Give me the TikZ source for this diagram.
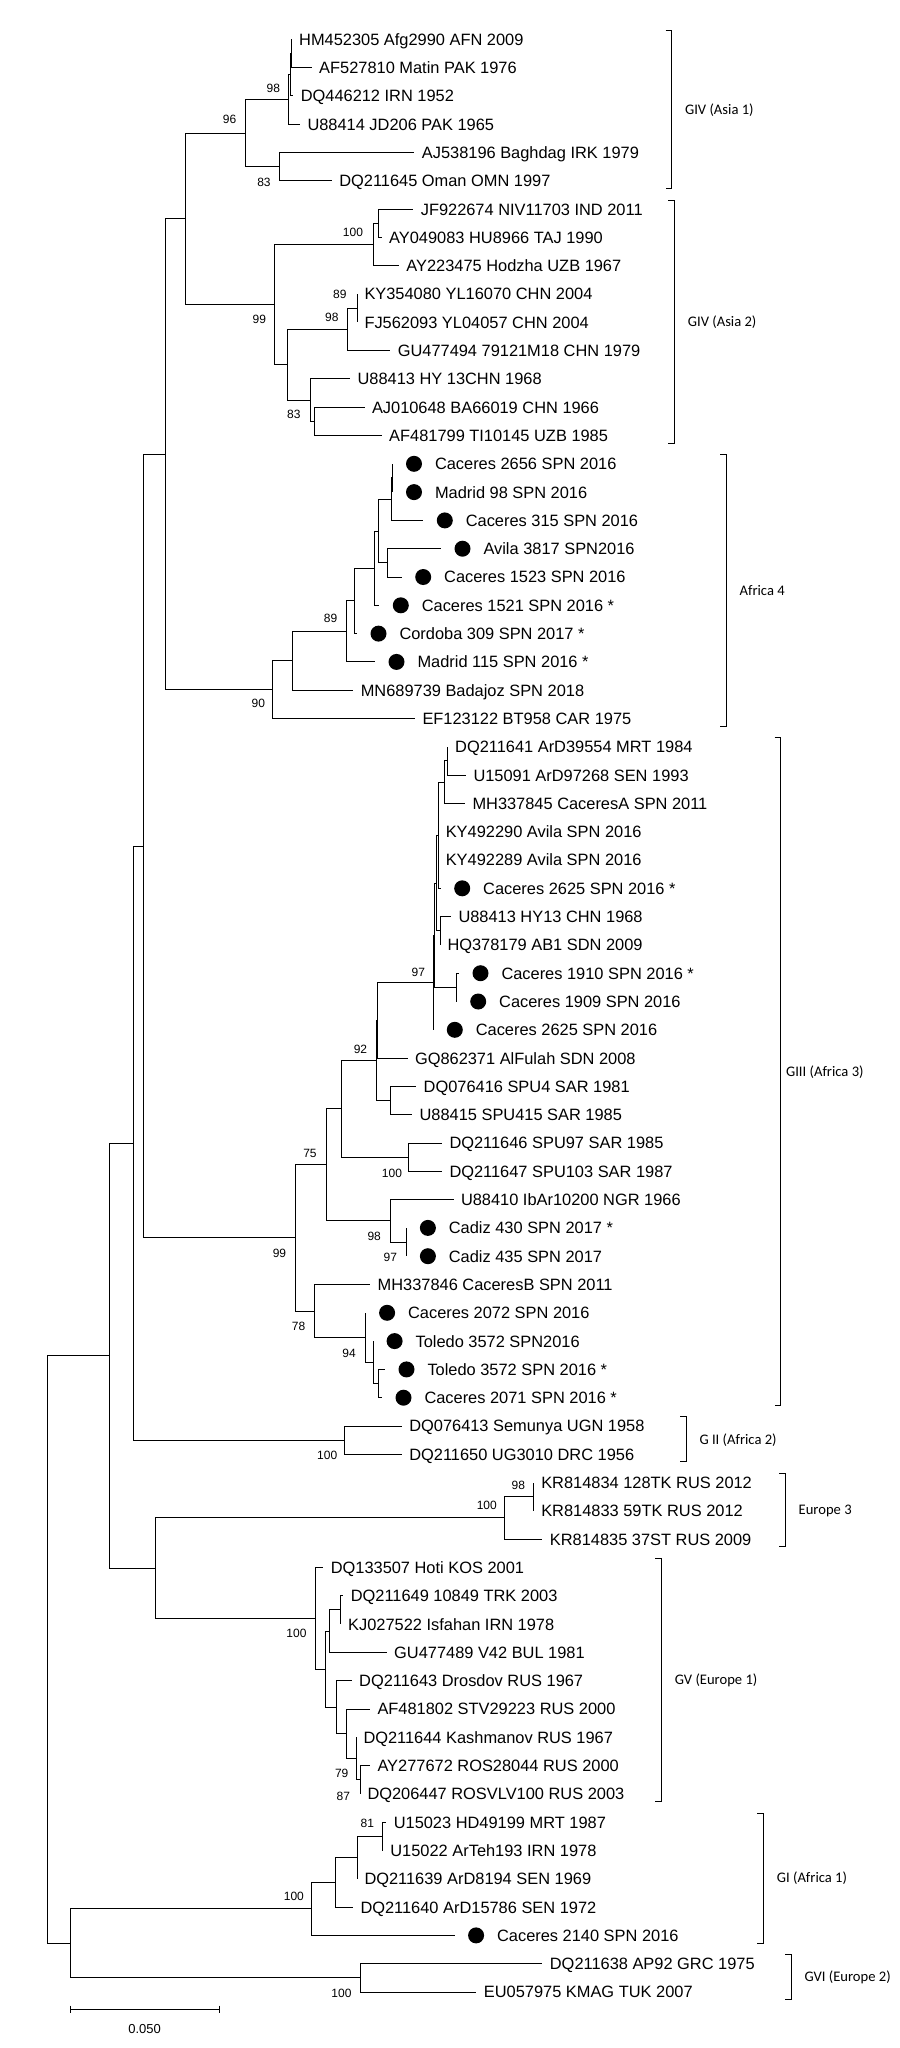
\documentclass[tikz,border=0pt]{standalone}
\usepackage{fontspec}
\setmainfont{Liberation Sans}
\newfontfamily\cladefont{Carlito}
\usetikzlibrary{positioning}
\newcommand{\leaffont}{\fontsize{8.2pt}{10pt}\selectfont}
\newcommand{\bsfont}{\fontsize{6pt}{7pt}\selectfont}

\begin{document}
\begin{tikzpicture}[x=0.5pt,y=-14.15pt,line width=.5pt,
 lf/.style={inner sep=0pt,font=\leaffont,text height=5.9pt,text depth=0pt},
 isolate/.style={circle,fill=black,minimum size=8pt,inner sep=0pt},
 bs/.style={inner sep=0pt,font=\bsfont,text height=4.3pt,text depth=0pt},
 clade/.style={inner sep=0pt,font=\cladefont\fontsize{7.3pt}{9pt}\selectfont,text height=4.7pt,text depth=0pt}]
\useasboundingbox (0,-1.389) rectangle (900,70.979);
% leaves: GIV (Asia 1)
\coordinate (hm452305) at (291.7,0); \node[lf,right=3.5pt of hm452305] (hm452305-l) {HM452305 Afg2990 AFN 2009};
\coordinate (af527810) at (311.7,1); \node[lf,right=3.5pt of af527810] (af527810-l) {AF527810 Matin PAK 1976};
\coordinate (dq446212) at (293.3,2); \node[lf,right=3.5pt of dq446212] (dq446212-l) {DQ446212 IRN 1952};
\coordinate (u88414) at (300,3); \node[lf,right=3.5pt of u88414] (u88414-l) {U88414 JD206 PAK 1965};
\coordinate (aj538196) at (414.4,4); \node[lf,right=3.5pt of aj538196] (aj538196-l) {AJ538196 Baghdag IRK 1979};
\coordinate (dq211645) at (331.8,5); \node[lf,right=3.5pt of dq211645] (dq211645-l) {DQ211645 Oman OMN 1997};
% GIV (Asia 2)
\coordinate (jf922674) at (413.3,6); \node[lf,right=3.5pt of jf922674] (jf922674-l) {JF922674 NIV11703 IND 2011};
\coordinate (ay049083) at (381.7,7); \node[lf,right=3.5pt of ay049083] (ay049083-l) {AY049083 HU8966 TAJ 1990};
\coordinate (ay223475) at (398.9,8); \node[lf,right=3.5pt of ay223475] (ay223475-l) {AY223475 Hodzha UZB 1967};
\coordinate (ky354080) at (357,9); \node[lf,right=3.5pt of ky354080] (ky354080-l) {KY354080 YL16070 CHN 2004};
\coordinate (fj562093) at (357,10); \node[lf,right=3.5pt of fj562093] (fj562093-l) {FJ562093 YL04057 CHN 2004};
\coordinate (gu477494) at (390.3,11); \node[lf,right=3.5pt of gu477494] (gu477494-l) {GU477494 79121M18 CHN 1979};
\coordinate (u88413a) at (350.1,12); \node[lf,right=3.5pt of u88413a] (u88413a-l) {U88413 HY 13CHN 1968};
\coordinate (aj010648) at (364.5,13); \node[lf,right=3.5pt of aj010648] (aj010648-l) {AJ010648 BA66019 CHN 1966};
\coordinate (af481799) at (381.7,14); \node[lf,right=3.5pt of af481799] (af481799-l) {AF481799 TI10145 UZB 1985};
% Africa 4
\coordinate (cac2656) at (392.5,15); \node[isolate,right=6.5pt of cac2656] (cac2656-d) {}; \node[lf,right=6pt of cac2656-d] (cac2656-l) {Caceres 2656 SPN 2016};
\coordinate (mad98) at (392.5,16); \node[isolate,right=6.5pt of mad98] (mad98-d) {}; \node[lf,right=6pt of mad98-d] (mad98-l) {Madrid 98 SPN 2016};
\coordinate (cac315) at (423.3,17); \node[isolate,right=6.5pt of cac315] (cac315-d) {}; \node[lf,right=6pt of cac315-d] (cac315-l) {Caceres 315 SPN 2016};
\coordinate (avi3817) at (441,18); \node[isolate,right=6.5pt of avi3817] (avi3817-d) {}; \node[lf,right=6pt of avi3817-d] (avi3817-l) {Avila 3817 SPN2016};
\coordinate (cac1523) at (401.7,19); \node[isolate,right=6.5pt of cac1523] (cac1523-d) {}; \node[lf,right=6pt of cac1523-d] (cac1523-l) {Caceres 1523 SPN 2016};
\coordinate (cac1521) at (379.3,20); \node[isolate,right=6.5pt of cac1521] (cac1521-d) {}; \node[lf,right=6pt of cac1521-d] (cac1521-l) {Caceres 1521 SPN 2016 *};
\coordinate (cor309) at (357,21); \node[isolate,right=6.5pt of cor309] (cor309-d) {}; \node[lf,right=6pt of cor309-d] (cor309-l) {Cordoba 309 SPN 2017 *};
\coordinate (mad115) at (375,22); \node[isolate,right=6.5pt of mad115] (mad115-d) {}; \node[lf,right=6pt of mad115-d] (mad115-l) {Madrid 115 SPN 2016 *};
\coordinate (mn689739) at (353.3,23); \node[lf,right=3.5pt of mn689739] (mn689739-l) {MN689739 Badajoz SPN 2018};
\coordinate (ef123122) at (415,24); \node[lf,right=3.5pt of ef123122] (ef123122-l) {EF123122 BT958 CAR 1975};
% GIII (Africa 3)
\coordinate (dq211641) at (447.7,25); \node[lf,right=3.5pt of dq211641] (dq211641-l) {DQ211641 ArD39554 MRT 1984};
\coordinate (u15091) at (466,26); \node[lf,right=3.5pt of u15091] (u15091-l) {U15091 ArD97268 SEN 1993};
\coordinate (mh337845) at (465,27); \node[lf,right=3.5pt of mh337845] (mh337845-l) {MH337845 CaceresA SPN 2011};
\coordinate (ky492290) at (438.3,28); \node[lf,right=3.5pt of ky492290] (ky492290-l) {KY492290 Avila SPN 2016};
\coordinate (ky492289) at (438.3,29); \node[lf,right=3.5pt of ky492289] (ky492289-l) {KY492289 Avila SPN 2016};
\coordinate (cac2625a) at (440.7,30); \node[isolate,right=6.5pt of cac2625a] (cac2625a-d) {}; \node[lf,right=6pt of cac2625a-d] (cac2625a-l) {Caceres 2625 SPN 2016 *};
\coordinate (u88413b) at (451,31); \node[lf,right=3.5pt of u88413b] (u88413b-l) {U88413 HY13 CHN 1968};
\coordinate (hq378179) at (440,32); \node[lf,right=3.5pt of hq378179] (hq378179-l) {HQ378179 AB1 SDN 2009};
\coordinate (cac1910) at (459,33); \node[isolate,right=6.5pt of cac1910] (cac1910-d) {}; \node[lf,right=6pt of cac1910-d] (cac1910-l) {Caceres 1910 SPN 2016 *};
\coordinate (cac1909) at (456.7,34); \node[isolate,right=6.5pt of cac1909] (cac1909-d) {}; \node[lf,right=6pt of cac1909-d] (cac1909-l) {Caceres 1909 SPN 2016};
\coordinate (cac2625b) at (433.3,35); \node[isolate,right=6.5pt of cac2625b] (cac2625b-d) {}; \node[lf,right=6pt of cac2625b-d] (cac2625b-l) {Caceres 2625 SPN 2016};
\coordinate (gq862371) at (407.5,36); \node[lf,right=3.5pt of gq862371] (gq862371-l) {GQ862371 AlFulah SDN 2008};
\coordinate (dq076416) at (416.2,37); \node[lf,right=3.5pt of dq076416] (dq076416-l) {DQ076416 SPU4 SAR 1981};
\coordinate (u88415) at (412.1,38); \node[lf,right=3.5pt of u88415] (u88415-l) {U88415 SPU415 SAR 1985};
\coordinate (dq211646) at (442,39); \node[lf,right=3.5pt of dq211646] (dq211646-l) {DQ211646 SPU97 SAR 1985};
\coordinate (dq211647) at (442,40); \node[lf,right=3.5pt of dq211647] (dq211647-l) {DQ211647 SPU103 SAR 1987};
\coordinate (u88410) at (453.5,41); \node[lf,right=3.5pt of u88410] (u88410-l) {U88410 IbAr10200 NGR 1966};
\coordinate (cad430) at (406.4,42); \node[isolate,right=6.5pt of cad430] (cad430-d) {}; \node[lf,right=6pt of cad430-d] (cad430-l) {Cadiz 430 SPN 2017 *};
\coordinate (cad435) at (406.4,43); \node[isolate,right=6.5pt of cad435] (cad435-d) {}; \node[lf,right=6pt of cad435-d] (cad435-l) {Cadiz 435 SPN 2017};
\coordinate (mh337846) at (370.2,44); \node[lf,right=3.5pt of mh337846] (mh337846-l) {MH337846 CaceresB SPN 2011};
\coordinate (cac2072) at (365.6,45); \node[isolate,right=6.5pt of cac2072] (cac2072-d) {}; \node[lf,right=6pt of cac2072-d] (cac2072-l) {Caceres 2072 SPN 2016};
\coordinate (tol3572a) at (373.1,46); \node[isolate,right=6.5pt of tol3572a] (tol3572a-d) {}; \node[lf,right=6pt of tol3572a-d] (tol3572a-l) {Toledo 3572 SPN2016};
\coordinate (tol3572b) at (385,47); \node[isolate,right=6.5pt of tol3572b] (tol3572b-d) {}; \node[lf,right=6pt of tol3572b-d] (tol3572b-l) {Toledo 3572 SPN 2016 *};
\coordinate (cac2071) at (382,48); \node[isolate,right=6.5pt of cac2071] (cac2071-d) {}; \node[lf,right=6pt of cac2071-d] (cac2071-l) {Caceres 2071 SPN 2016 *};
% G II (Africa 2)
\coordinate (dq076413) at (401.8,49); \node[lf,right=3.5pt of dq076413] (dq076413-l) {DQ076413 Semunya UGN 1958};
\coordinate (dq211650) at (401.8,50); \node[lf,right=3.5pt of dq211650] (dq211650-l) {DQ211650 UG3010 DRC 1956};
% Europe 3
\coordinate (kr814834) at (533.8,51); \node[lf,right=3.5pt of kr814834] (kr814834-l) {KR814834 128TK RUS 2012};
\coordinate (kr814833) at (533.8,52); \node[lf,right=3.5pt of kr814833] (kr814833-l) {KR814833 59TK RUS 2012};
\coordinate (kr814835) at (542.4,53); \node[lf,right=3.5pt of kr814835] (kr814835-l) {KR814835 37ST RUS 2009};
% GV (Europe 1)
\coordinate (dq133507) at (323.3,54); \node[lf,right=3.5pt of dq133507] (dq133507-l) {DQ133507 Hoti KOS 2001};
\coordinate (dq211649) at (343.3,55); \node[lf,right=3.5pt of dq211649] (dq211649-l) {DQ211649 10849 TRK 2003};
\coordinate (kj027522) at (340.7,56); \node[lf,right=3.5pt of kj027522] (kj027522-l) {KJ027522 Isfahan IRN 1978};
\coordinate (gu477489) at (386.7,57); \node[lf,right=3.5pt of gu477489] (gu477489-l) {GU477489 V42 BUL 1981};
\coordinate (dq211643) at (351.7,58); \node[lf,right=3.5pt of dq211643] (dq211643-l) {DQ211643 Drosdov RUS 1967};
\coordinate (af481802) at (370,59); \node[lf,right=3.5pt of af481802] (af481802-l) {AF481802 STV29223 RUS 2000};
\coordinate (dq211644) at (356,60); \node[lf,right=3.5pt of dq211644] (dq211644-l) {DQ211644 Kashmanov RUS 1967};
\coordinate (ay277672) at (370,61); \node[lf,right=3.5pt of ay277672] (ay277672-l) {AY277672 ROS28044 RUS 2000};
\coordinate (dq206447) at (360,62); \node[lf,right=3.5pt of dq206447] (dq206447-l) {DQ206447 ROSVLV100 RUS 2003};
% GI (Africa 1)
\coordinate (u15023) at (386.3,63); \node[lf,right=3.5pt of u15023] (u15023-l) {U15023 HD49199 MRT 1987};
\coordinate (u15022) at (382.9,64); \node[lf,right=3.5pt of u15022] (u15022-l) {U15022 ArTeh193 IRN 1978};
\coordinate (dq211639) at (357,65); \node[lf,right=3.5pt of dq211639] (dq211639-l) {DQ211639 ArD8194 SEN 1969};
\coordinate (dq211640) at (353,66); \node[lf,right=3.5pt of dq211640] (dq211640-l) {DQ211640 ArD15786 SEN 1972};
\coordinate (cac2140) at (454.6,67); \node[isolate,right=6.5pt of cac2140] (cac2140-d) {}; \node[lf,right=6pt of cac2140-d] (cac2140-l) {Caceres 2140 SPN 2016};
% GVI (Europe 2)
\coordinate (dq211638) at (542.4,68); \node[lf,right=3.5pt of dq211638] (dq211638-l) {DQ211638 AP92 GRC 1975};
\coordinate (eu057975) at (476.4,69); \node[lf,right=3.5pt of eu057975] (eu057975-l) {EU057975 KMAG TUK 2007};
% inner nodes
\coordinate (n-hmaf) at (291.7,0.5);
\coordinate (n-s) at (290,1.25);
\coordinate (b98a) at (288.3,2.125);
\coordinate (b83a) at (279.5,4.5);
\coordinate (b96) at (245.7,3.3125);
\coordinate (n-jfay) at (378.8,6.5);
\coordinate (b100a) at (373.1,7.25);
\coordinate (b89a) at (357,9.5);
\coordinate (b98b) at (347.3,10.25);
\coordinate (n-ajaf) at (314.5,13.5);
\coordinate (b83b) at (310,12.75);
\coordinate (n-xb) at (287,11.5);
\coordinate (b99a) at (274.4,9.375);
\coordinate (n-a12) at (185.4,6.34375);
\coordinate (n-tt) at (392.5,15.5);
\coordinate (n-uu) at (391.7,16.25);
\coordinate (n-av) at (387.3,18.5);
\coordinate (n-vv) at (378.3,17.375);
\coordinate (n-ww) at (374.3,18.6875);
\coordinate (n-zz) at (354,19.84375);
\coordinate (b89c) at (346,20.921875);
\coordinate (n-yy) at (292.7,21.9609);
\coordinate (b90) at (272.7,22.98);
\coordinate (n1) at (165.3,14.662);
\coordinate (n-du) at (447.7,25.5);
\coordinate (n-dm) at (444,26.25);
\coordinate (n-p1) at (438.3,28.125);
\coordinate (n-uh) at (440,31.5);
\coordinate (n-pp) at (436.7,29.8125);
\coordinate (n-c19) at (456.7,33.5);
\coordinate (n-rr) at (434.5,31.656);
\coordinate (b97a) at (433.3,33.328);
\coordinate (n-x1) at (377.7,34.664);
\coordinate (n-spu) at (390.3,37.5);
\coordinate (b92) at (376,36.082);
\coordinate (b100b) at (408.7,39.5);
\coordinate (n-kk) at (341.5,37.791);
\coordinate (b97b) at (406.4,42.5);
\coordinate (b98c) at (390.3,41.75);
\coordinate (b75) at (326,39.77);
\coordinate (n-t2) at (378.8,47.5);
\coordinate (n-t1) at (373.1,46.75);
\coordinate (b94) at (365.6,45.875);
\coordinate (b78) at (314.6,44.9375);
\coordinate (b99b) at (295.6,42.354);
\coordinate (n2) at (143.5,28.508);
\coordinate (b100c) at (344.4,49.5);
\coordinate (n3) at (133.2,39.004);
\coordinate (b98d) at (533.8,51.5);
\coordinate (b100d) at (504,52.25);
\coordinate (n-g2a) at (340.7,55.5);
\coordinate (n-gg2) at (329.3,56.25);
\coordinate (b87) at (360,61.5);
\coordinate (b79) at (356,60.75);
\coordinate (n-g4) at (346.5,59.875);
\coordinate (n-g3) at (336.7,58.9375);
\coordinate (n-g1) at (325,57.594);
\coordinate (b100e) at (315,55.797);
\coordinate (n5) at (155,54.023);
\coordinate (n4) at (109.1,46.514);
\coordinate (b81) at (382.9,63.5);
\coordinate (n-gib) at (357,64.25);
\coordinate (n-gia) at (335.8,65.125);
\coordinate (b100f) at (311.7,66.0625);
\coordinate (b100g) at (360.5,68.5);
\coordinate (n7) at (70,67.281);
\coordinate (root) at (47.1,56.898);
% branches
\draw (n-hmaf) |- (hm452305) (n-hmaf) |- (af527810);
\draw (n-s) |- (n-hmaf) (n-s) |- (dq446212);
\draw (b98a) |- (n-s) (b98a) |- (u88414);
\draw (b83a) |- (aj538196) (b83a) |- (dq211645);
\draw (b96) |- (b98a) (b96) |- (b83a);
\draw (n-jfay) |- (jf922674) (n-jfay) |- (ay049083);
\draw (b100a) |- (n-jfay) (b100a) |- (ay223475);
\draw (b89a) |- (ky354080) (b89a) |- (fj562093);
\draw (b98b) |- (b89a) (b98b) |- (gu477494);
\draw (n-ajaf) |- (aj010648) (n-ajaf) |- (af481799);
\draw (b83b) |- (u88413a) (b83b) |- (n-ajaf);
\draw (n-xb) |- (b98b) (n-xb) |- (b83b);
\draw (b99a) |- (b100a) (b99a) |- (n-xb);
\draw (n-a12) |- (b96) (n-a12) |- (b99a);
\draw (n-tt) |- (cac2656) (n-tt) |- (mad98);
\draw (n-uu) |- (n-tt) (n-uu) |- (cac315);
\draw (n-av) |- (avi3817) (n-av) |- (cac1523);
\draw (n-vv) |- (n-uu) (n-vv) |- (n-av);
\draw (n-ww) |- (n-vv) (n-ww) |- (cac1521);
\draw (n-zz) |- (n-ww) (n-zz) |- (cor309);
\draw (b89c) |- (n-zz) (b89c) |- (mad115);
\draw (n-yy) |- (b89c) (n-yy) |- (mn689739);
\draw (b90) |- (n-yy) (b90) |- (ef123122);
\draw (n1) |- (n-a12) (n1) |- (b90);
\draw (n-du) |- (dq211641) (n-du) |- (u15091);
\draw (n-dm) |- (n-du) (n-dm) |- (mh337845);
\draw (n-p1) |- (n-dm) (n-p1) |- (ky492290) (n-p1) |- (ky492289) (n-p1) |- (cac2625a);
\draw (n-uh) |- (u88413b) (n-uh) |- (hq378179);
\draw (n-pp) |- (n-p1) (n-pp) |- (n-uh);
\draw (n-c19) |- (cac1910) (n-c19) |- (cac1909);
\draw (n-rr) |- (n-pp) (n-rr) |- (n-c19);
\draw (b97a) |- (n-rr) (b97a) |- (cac2625b);
\draw (n-x1) |- (b97a) (n-x1) |- (gq862371);
\draw (n-spu) |- (dq076416) (n-spu) |- (u88415);
\draw (b92) |- (n-x1) (b92) |- (n-spu);
\draw (b100b) |- (dq211646) (b100b) |- (dq211647);
\draw (n-kk) |- (b92) (n-kk) |- (b100b);
\draw (b97b) |- (cad430) (b97b) |- (cad435);
\draw (b98c) |- (u88410) (b98c) |- (b97b);
\draw (b75) |- (n-kk) (b75) |- (b98c);
\draw (n-t2) |- (tol3572b) (n-t2) |- (cac2071);
\draw (n-t1) |- (tol3572a) (n-t1) |- (n-t2);
\draw (b94) |- (cac2072) (b94) |- (n-t1);
\draw (b78) |- (mh337846) (b78) |- (b94);
\draw (b99b) |- (b75) (b99b) |- (b78);
\draw (n2) |- (n1) (n2) |- (b99b);
\draw (b100c) |- (dq076413) (b100c) |- (dq211650);
\draw (n3) |- (n2) (n3) |- (b100c);
\draw (b98d) |- (kr814834) (b98d) |- (kr814833);
\draw (b100d) |- (b98d) (b100d) |- (kr814835);
\draw (n-g2a) |- (dq211649) (n-g2a) |- (kj027522);
\draw (n-gg2) |- (n-g2a) (n-gg2) |- (gu477489);
\draw (b87) |- (ay277672) (b87) |- (dq206447);
\draw (b79) |- (dq211644) (b79) |- (b87);
\draw (n-g4) |- (af481802) (n-g4) |- (b79);
\draw (n-g3) |- (dq211643) (n-g3) |- (n-g4);
\draw (n-g1) |- (n-gg2) (n-g1) |- (n-g3);
\draw (b100e) |- (dq133507) (b100e) |- (n-g1);
\draw (n5) |- (b100d) (n5) |- (b100e);
\draw (n4) |- (n3) (n4) |- (n5);
\draw (b81) |- (u15023) (b81) |- (u15022);
\draw (n-gib) |- (b81) (n-gib) |- (dq211639);
\draw (n-gia) |- (n-gib) (n-gia) |- (dq211640);
\draw (b100f) |- (n-gia) (b100f) |- (cac2140);
\draw (b100g) |- (dq211638) (b100g) |- (eu057975);
\draw (n7) |- (b100f) (n7) |- (b100g);
\draw (root) |- (n4) (root) |- (n7);
% bootstrap values
\node[bs] (b98a-v) at (273.3,1.731) {98};
\node[bs] (b96-v) at (229.6,2.827) {96};
\node[bs] (b83a-v) at (264,5.032) {83};
\node[bs] (b100a-v) at (353,6.820) {100};
\node[bs] (b89a-v) at (339.8,9.011) {89};
\node[bs] (b98b-v) at (331.8,9.802) {98};
\node[bs] (b99a-v) at (259.4,9.894) {99};
\node[bs] (b83b-v) at (293.9,13.240) {83};
\node[bs] (b89c-v) at (330.5,20.459) {89};
\node[bs] (b90-v) at (258.3,23.463) {90};
\node[bs] (b97a-v) at (418.3,32.947) {97};
\node[bs] (b92-v) at (360.5,35.689) {92};
\node[bs] (b75-v) at (310,39.343) {75};
\node[bs] (b100b-v) at (392,40.049) {100};
\node[bs] (b98c-v) at (374.2,42.286) {98};
\node[bs] (b97b-v) at (390.3,43.039) {97};
\node[bs] (b99b-v) at (279.5,42.876) {99};
\node[bs] (b78-v) at (298.5,45.466) {78};
\node[bs] (b94-v) at (349,46.410) {94};
\node[bs] (b100c-v) at (327.2,50.025) {100};
\node[bs] (b98d-v) at (518.3,51.085) {98};
\node[bs] (b100d-v) at (486.8,51.792) {100};
\node[bs] (b100e-v) at (296.5,56.325) {100};
\node[bs] (b79-v) at (341.7,61.251) {79};
\node[bs] (b87-v) at (343.3,62.074) {87};
\node[bs] (b81-v) at (367.4,63.039) {81};
\node[bs] (b100f-v) at (293.9,65.597) {100};
\node[bs] (b100g-v) at (341.5,69.025) {100};
% clade brackets
\coordinate (asia1-t) at (671.6,-0.32); \coordinate (asia1-b) at (671.6,5.27);
\draw (asia1-t) ++(-6,0) -- (asia1-t) -- node[clade,right=6.5pt] (asia1-l) {GIV (Asia 1)} (asia1-b) -- ++(-6,0);
\coordinate (asia2-t) at (674.4,5.68); \coordinate (asia2-b) at (674.4,14.27);
\draw (asia2-t) ++(-6,0) -- (asia2-t) -- node[clade,right=6.5pt] (asia2-l) {GIV (Asia 2)} (asia2-b) -- ++(-6,0);
\coordinate (afr4-t) at (726.1,14.68); \coordinate (afr4-b) at (726.1,24.27);
\draw (afr4-t) ++(-6,0) -- (afr4-t) -- node[clade,right=6.5pt] (afr4-l) {Africa 4} (afr4-b) -- ++(-6,0);
\coordinate (afr3-t) at (780.6,24.68); \coordinate (afr3-b) at (780.6,48.27);
\draw (afr3-t) ++(-6,0) -- (afr3-t) -- node[clade,right=2.5pt] (afr3-l) {GIII (Africa 3)} (afr3-b) -- ++(-6,0);
\coordinate (afr2-t) at (686,48.68); \coordinate (afr2-b) at (686,50.27);
\draw (afr2-t) ++(-6,0) -- (afr2-t) -- node[clade,right=6.5pt] (afr2-l) {G II (Africa 2)} (afr2-b) -- ++(-6,0);
\coordinate (eur3-t) at (785.2,50.68); \coordinate (eur3-b) at (785.2,53.27);
\draw (eur3-t) ++(-6,0) -- (eur3-t) -- node[clade,right=6.5pt] (eur3-l) {Europe 3} (eur3-b) -- ++(-6,0);
\coordinate (eur1-t) at (661.3,53.68); \coordinate (eur1-b) at (661.3,62.27);
\draw (eur1-t) ++(-6,0) -- (eur1-t) -- node[clade,right=6.5pt] (eur1-l) {GV (Europe 1)} (eur1-b) -- ++(-6,0);
\coordinate (afr1-t) at (763.4,62.68); \coordinate (afr1-b) at (763.4,67.27);
\draw (afr1-t) ++(-6,0) -- (afr1-t) -- node[clade,right=6.5pt] (afr1-l) {GI (Africa 1)} (afr1-b) -- ++(-6,0);
\coordinate (eur2-t) at (791,67.68); \coordinate (eur2-b) at (791,69.27);
\draw (eur2-t) ++(-6,0) -- (eur2-t) -- node[clade,right=6.5pt] (eur2-l) {GVI (Europe 2)} (eur2-b) -- ++(-6,0);
% scale bar
\coordinate (sb-l) at (70.6,69.611); \coordinate (sb-r) at (219.8,69.611);
\draw (sb-l) -- (sb-r);
\draw (sb-l) ++(0,-0.13) -- ++(0,0.26);
\draw (sb-r) ++(0,-0.13) -- ++(0,0.26);
\node[bs,font=\fontsize{6.5pt}{8pt}\selectfont] (sb-v) at (144.6,70.329) {0.050};
\end{tikzpicture}
\end{document}
